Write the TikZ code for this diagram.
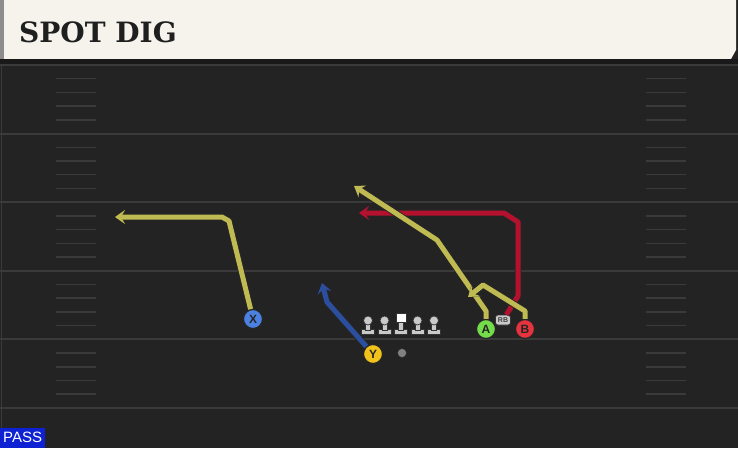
\documentclass[tikz,border=0pt]{standalone}
\usepackage{fontspec}
\setmainfont{Liberation Sans}
\newfontfamily\titlefont{DejaVu Serif}
\usetikzlibrary{arrows.meta, positioning}
\definecolor{turf}{HTML}{232323}
\definecolor{yardline}{HTML}{3A3A3A}
\definecolor{cream}{HTML}{F5F3EC}
\definecolor{routeylw}{HTML}{BFBB52}
\definecolor{routered}{HTML}{B3112D}
\definecolor{routeblue}{HTML}{2B4E9E}
\definecolor{xblue}{HTML}{4B82E2}
\definecolor{yyellow}{HTML}{F1C21B}
\definecolor{agreen}{HTML}{73DC4B}
\definecolor{bred}{HTML}{E6333D}
\definecolor{passblue}{HTML}{0E22D4}
\definecolor{olgray}{HTML}{C9C9C9}

\begin{document}
\begin{tikzpicture}[x=1pt,y=-1pt,node distance=16.5pt,on grid]
    \tikzstyle{player}=[shape=circle,draw=black!85,line width=1.2pt,minimum size=19pt,inner sep=0pt,font=\bfseries\fontsize{12}{12}\selectfont,text=black!85]
    \tikzstyle{lineman}=[inner sep=0pt,minimum size=1pt]
    \tikzstyle{route}=[line width=5pt,line join=round,-{Stealth[length=10pt,width=14pt,inset=4pt]},
        preaction={draw=black!85,line width=6.8pt,-{Stealth[length=11.5pt,width=16pt,inset=4.5pt]}}]

    \useasboundingbox (0,0) rectangle (738,448);
    \fill[turf] (0,0) rectangle (738,448);

    % header
    \fill[cream] (0,0) -- (736,0) -- (736,50) -- (731,59) -- (0,59) -- cycle;
    \fill[black!45] (0,0) rectangle (4,59);
    \fill[black!90] (0,59) rectangle (738,64);
    \node[anchor=base west,inner sep=0pt,font=\titlefont\bfseries\fontsize{28}{28}\selectfont,text=black!88] (title) at (19,42) {SPOT DIG};

    % field
    \draw[yardline,line width=1pt] (1,64) -- (1,448);
    \foreach \k in {0,...,5}
        \draw[yardline,line width=2pt] (0,65+68.6*\k) -- (738,65+68.6*\k);
    \foreach \k in {0,...,4}
        \foreach \j in {1,...,4} {
            \draw[yardline,line width=1.5pt] (56,65+68.6*\k+13.7*\j) -- (96,65+68.6*\k+13.7*\j);
            \draw[yardline,line width=1.5pt] (646,65+68.6*\k+13.7*\j) -- (686,65+68.6*\k+13.7*\j);
        }

    % line
    \node[lineman] (C) at (401,328) {};
    \node[lineman, left of=C] (LG) {};
    \node[lineman, left of=LG] (LT) {};
    \node[lineman, right of=C] (RG) {};
    \node[lineman, right of=RG] (RT) {};
    \foreach \n in {LT,LG,C,RG,RT} {
        \filldraw[olgray,draw=black!80,line width=0.7pt] (\n.center) ++(-6.5,1.5) rectangle ++(13,5);
        \filldraw[olgray,draw=black!80,line width=0.7pt] (\n.center) ++(-2.5,-6) rectangle ++(5,8);
    }
    \foreach \n in {LT,LG,RG,RT}
        \filldraw[olgray,draw=black!80,line width=0.7pt] (\n.center) ++(0,-7.5) circle (4.5);
    \filldraw[white,draw=black!80,line width=0.7pt] (C.center) ++(-5,-15) rectangle ++(10,9.5);
    \node[circle,fill=black!50,draw=black!85,minimum size=9pt,inner sep=0pt] (ball) at (402,353) {};

    % players
    \node[player,fill=xblue] (X) at (253,319) {X};
    \node[player,fill=yyellow] (Y) at (373,354) {Y};
    \node[player,fill=agreen] (A) at (486,329) {A};
    \node[player,fill=bred] (B) at (525,329) {B};
    \node[rounded corners=2.5pt,fill=olgray,draw=black!80,line width=0.7pt,minimum width=15pt,minimum height=10pt,inner sep=0pt,
        font=\bfseries\fontsize{7}{7}\selectfont,text=black!75] (RB) at (503,320) {RB};

    % routes
    \coordinate (x1) at (229,221);
    \coordinate (x2) at (222,217);
    \coordinate (x3) at (115,217);
    \coordinate (a1) at (486,311);
    \coordinate (a2) at (437,240);
    \coordinate (a3) at (354,186);
    \coordinate (b1) at (525,311);
    \coordinate (b2) at (483,285);
    \coordinate (b3) at (468,297);
    \coordinate (r1) at (518,296);
    \coordinate (r2) at (518,222);
    \coordinate (r3) at (504,213);
    \coordinate (r4) at (359,213);
    \coordinate (y1) at (327,302);
    \coordinate (y2) at (322,283);

    \draw[route,routered] (RB) -- (r1) -- (r2) -- (r3) -- (r4);
    \draw[route,routeylw] (X) -- (x1) -- (x2) -- (x3);
    \draw[route,routeylw] (A) -- (a1) -- (a2) -- (a3);
    \draw[route,routeylw] (B) -- (b1) -- (b2) -- (b3);
    \draw[route,routeblue] (Y) -- (y1) -- (y2);

    % play type
    \node[fill=passblue,anchor=south west,minimum width=45pt,minimum height=20pt,inner sep=0pt,
        font=\fontsize{15}{15}\selectfont,text=white] (pass) at (0,448) {PASS};
\end{tikzpicture}
\end{document}
